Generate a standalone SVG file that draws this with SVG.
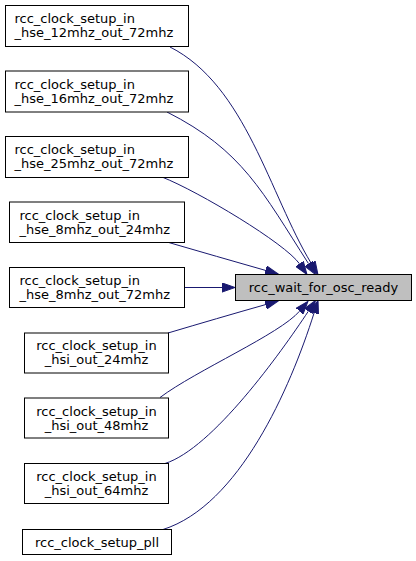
<svg xmlns="http://www.w3.org/2000/svg" width="416" height="561" viewBox="0 0 416 561">
<defs>
<style>
.node rect{fill:#ffffff;stroke:#000000;stroke-width:1}
.node.target rect{fill:#bfbfbf}
text{font-family:"DejaVu Sans","Liberation Sans",sans-serif;font-size:13px;fill:#000000}
.edge path{fill:none;stroke:#191970;stroke-width:1}
</style>
<marker id="arr" markerUnits="userSpaceOnUse" markerWidth="14" markerHeight="10" refX="0" refY="5" orient="auto" viewBox="0 0 14 10">
<path d="M0,0.4 L13,5 L0,9.6 Z" fill="#191970" stroke="#191970" stroke-width="1"/>
</marker>
</defs>
<rect width="416" height="561" fill="#ffffff"/>
<g id="edges" class="edge">
<path d="M170,47 C245.7,85.3 269.6,194.5 311.2,263.3" marker-end="url(#arr)"/>
<path d="M167,112 C242.7,150.3 262.6,192.2 308.5,263.6" marker-end="url(#arr)"/>
<path d="M162,177 C199.2,191.8 285,243.3 299.5,263.8" marker-end="url(#arr)"/>
<path d="M167,242 C200,251.5 233,261.2 265.5,270.4" marker-end="url(#arr)"/>
<path d="M184,287.5 L222,287.5" marker-end="url(#arr)"/>
<path d="M168,333 C200,323.5 233,313.8 265.5,304.6" marker-end="url(#arr)"/>
<path d="M160,397.5 C196,370.5 280,334 299.5,311.2" marker-end="url(#arr)"/>
<path d="M165,463.5 C212.5,448.5 280.8,352.8 308.3,311.3" marker-end="url(#arr)"/>
<path d="M163,529.5 C239,505.5 290.1,388.9 314.1,312.9" marker-end="url(#arr)"/>
</g>
<g id="target" class="node target">
<rect x="235.5" y="274.5" width="176" height="26"/>
<text x="323.5" y="292" text-anchor="middle">rcc_wait_for_osc_ready</text>
</g>
<g id="n1" class="node">
<rect x="5.5" y="5.5" width="183" height="41"/>
<text x="14.5" y="23">rcc_clock_setup_in</text>
<text x="14.5" y="37">_hse_12mhz_out_72mhz</text>
</g>
<g id="n2" class="node">
<rect x="5.5" y="71" width="183" height="41"/>
<text x="14.5" y="88.5">rcc_clock_setup_in</text>
<text x="14.5" y="102.5">_hse_16mhz_out_72mhz</text>
</g>
<g id="n3" class="node">
<rect x="5.5" y="136.5" width="183" height="41"/>
<text x="14.5" y="154">rcc_clock_setup_in</text>
<text x="14.5" y="168">_hse_25mhz_out_72mhz</text>
</g>
<g id="n4" class="node">
<rect x="9.5" y="202" width="175" height="40.5"/>
<text x="19.5" y="219.5">rcc_clock_setup_in</text>
<text x="19.5" y="233.5">_hse_8mhz_out_24mhz</text>
</g>
<g id="n5" class="node">
<rect x="9.5" y="267.5" width="175" height="40"/>
<text x="19.5" y="285">rcc_clock_setup_in</text>
<text x="19.5" y="299">_hse_8mhz_out_72mhz</text>
</g>
<g id="n6" class="node">
<rect x="24.5" y="333" width="144" height="40"/>
<text x="96.5" y="350" text-anchor="middle">rcc_clock_setup_in</text>
<text x="96.5" y="364" text-anchor="middle">_hsi_out_24mhz</text>
</g>
<g id="n7" class="node">
<rect x="24.5" y="398" width="144" height="40"/>
<text x="96.5" y="415.5" text-anchor="middle">rcc_clock_setup_in</text>
<text x="96.5" y="429.5" text-anchor="middle">_hsi_out_48mhz</text>
</g>
<g id="n8" class="node">
<rect x="24.5" y="463.5" width="144" height="40"/>
<text x="96.5" y="481" text-anchor="middle">rcc_clock_setup_in</text>
<text x="96.5" y="495" text-anchor="middle">_hsi_out_64mhz</text>
</g>
<g id="n9" class="node">
<rect x="22.5" y="529.5" width="149" height="25"/>
<text x="97" y="546.5" text-anchor="middle">rcc_clock_setup_pll</text>
</g>
</svg>
